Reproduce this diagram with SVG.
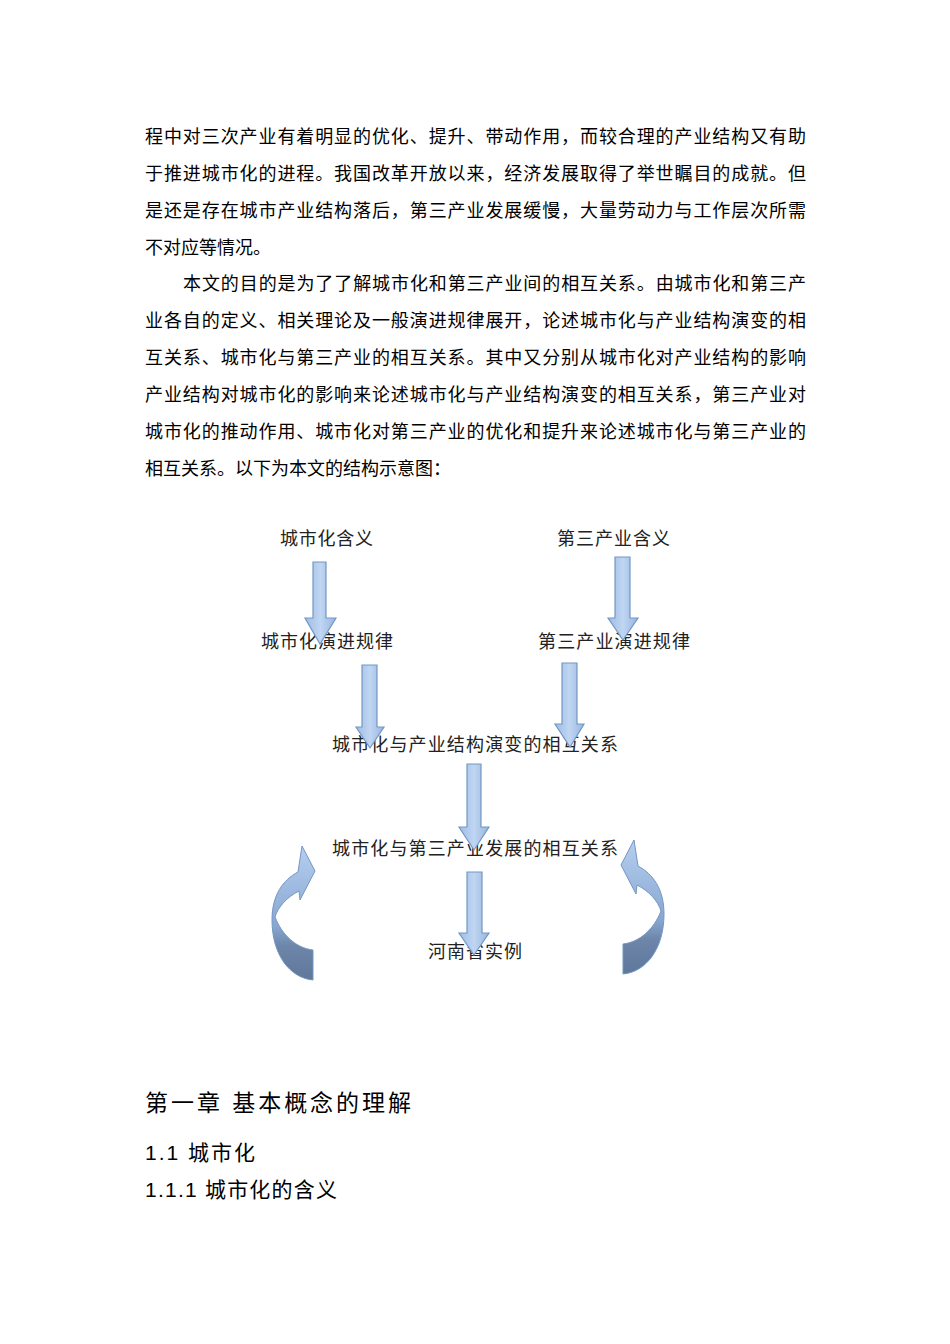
<svg xmlns="http://www.w3.org/2000/svg" width="950" height="1344" viewBox="0 0 950 1344">
<style>
.b{font-family:"Liberation Serif","Noto Sans CJK SC",serif;font-size:18px;fill:#000}
.d{font-family:"Liberation Serif","Noto Sans CJK SC",serif;font-size:18px;fill:#222}
.h{font-family:"Liberation Sans","Noto Sans CJK SC",sans-serif;fill:#000}
.ar{fill:url(#g);stroke:#7397c4;stroke-width:1.2}
.cv{fill:url(#g2);stroke:#7397c4;stroke-width:1}
</style>
<defs>
<linearGradient id="g" x1="0" y1="0" x2="1" y2="0"><stop offset="0" stop-color="#9dbce6"/><stop offset="0.5" stop-color="#c0d6f2"/><stop offset="1" stop-color="#96b5e0"/></linearGradient>
<linearGradient id="g2" x1="0" y1="0" x2="0" y2="1"><stop offset="0" stop-color="#b6cff0"/><stop offset="0.6" stop-color="#88a6d0"/><stop offset="0.75" stop-color="#6c85a8"/><stop offset="1" stop-color="#5f779a"/></linearGradient>
</defs>
<rect width="950" height="1344" fill="#fff"/>
<g id="body">
<text class="b" x="145" y="143" textLength="661" lengthAdjust="spacing">程中对三次产业有着明显的优化、提升、带动作用，而较合理的产业结构又有助</text>
<text class="b" x="145" y="180" textLength="661" lengthAdjust="spacing">于推进城市化的进程。我国改革开放以来，经济发展取得了举世瞩目的成就。但</text>
<text class="b" x="145" y="217" textLength="661" lengthAdjust="spacing">是还是存在城市产业结构落后，第三产业发展缓慢，大量劳动力与工作层次所需</text>
<text class="b" x="145" y="254">不对应等情况。</text>
<text class="b" x="183" y="290" textLength="623" lengthAdjust="spacing">本文的目的是为了了解城市化和第三产业间的相互关系。由城市化和第三产</text>
<text class="b" x="145" y="327" textLength="661" lengthAdjust="spacing">业各自的定义、相关理论及一般演进规律展开，论述城市化与产业结构演变的相</text>
<text class="b" x="145" y="364" textLength="661" lengthAdjust="spacing">互关系、城市化与第三产业的相互关系。其中又分别从城市化对产业结构的影响</text>
<text class="b" x="145" y="401" textLength="661" lengthAdjust="spacing">产业结构对城市化的影响来论述城市化与产业结构演变的相互关系，第三产业对</text>
<text class="b" x="145" y="438" textLength="661" lengthAdjust="spacing">城市化的推动作用、城市化对第三产业的优化和提升来论述城市化与第三产业的</text>
<text class="b" x="145" y="475">相互关系。以下为本文的结构示意图：</text>
</g>
<g id="n1"><text class="d" x="280" y="545" textLength="93" lengthAdjust="spacing">城市化含义</text></g>
<g id="n2"><text class="d" x="557" y="545" textLength="113" lengthAdjust="spacing">第三产业含义</text></g>
<g id="n3"><text class="d" x="261" y="648" textLength="132" lengthAdjust="spacing">城市化演进规律</text></g>
<g id="n4"><text class="d" x="538" y="648" textLength="152" lengthAdjust="spacing">第三产业演进规律</text></g>
<g id="n5"><text class="d" x="332" y="751" textLength="286" lengthAdjust="spacing">城市化与产业结构演变的相互关系</text></g>
<g id="n6"><text class="d" x="332" y="855" textLength="286" lengthAdjust="spacing">城市化与第三产业发展的相互关系</text></g>
<g id="n7"><text class="d" x="428" y="958" textLength="94" lengthAdjust="spacing">河南省实例</text></g>
<g id="connectors">
<path class="ar" d="M313,562 H326 V618 H336 L320,644 L305,618 H313 Z"/>
<path class="ar" d="M615,557 H630 V618 H638 L623,640 L608,618 H615 Z"/>
<path class="ar" d="M362,665 H377 V727 H384 L370,748 L356,727 H362 Z"/>
<path class="ar" d="M562,663 H577 V724 H584 L570,747 L555,724 H562 Z"/>
<path class="ar" d="M467,764 H481 V827 H489 L474,850 L459,827 H467 Z"/>
<path class="ar" d="M467,872 H482 V933 H489 L474,955 L459,933 H467 Z"/>
<path class="cv" d="M313,980 C290,978 272,955 272,920 C272,895 283,880 298,872 L302,846 L315,871 L300,900 L299,891 C287,897 278,907 275,917 C282,935 296,948 313,950 Z"/>
<path class="cv" transform="translate(936,-6) scale(-1,1)" d="M313,980 C290,978 272,955 272,920 C272,895 283,880 298,872 L302,846 L315,871 L300,900 L299,891 C287,897 278,907 275,917 C282,935 296,948 313,950 Z"/>
</g>
<g id="headings">
<text class="h" x="145" y="1111" font-size="23" textLength="266" lengthAdjust="spacing">第一章  基本概念的理解</text>
<text class="h" x="145" y="1160" font-size="21" textLength="110" lengthAdjust="spacing">1.1 城市化</text>
<text class="h" x="145" y="1197" font-size="21" textLength="192" lengthAdjust="spacing">1.1.1 城市化的含义</text>
</g>
</svg>
